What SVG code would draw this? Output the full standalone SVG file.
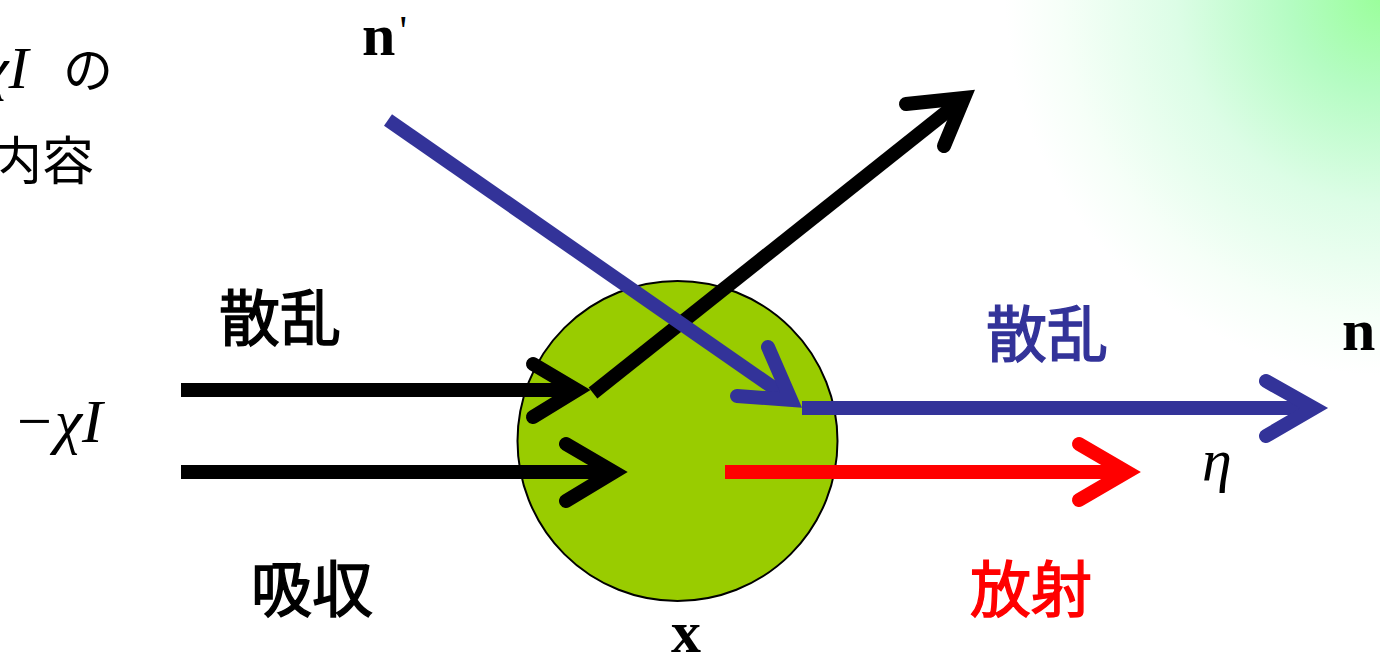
<svg xmlns="http://www.w3.org/2000/svg" width="1380" height="657" viewBox="0 0 1380 657">
  <style>
    .cjk { font-family: "Noto Sans CJK JP", "Noto Sans", sans-serif; }
    .cjkb { font-family: "Noto Sans CJK JP", "Noto Sans", sans-serif; font-size: 61px; stroke-width: 1.4; }
    .math { font-family: "Liberation Serif", "DejaVu Serif", serif; }
    .blk { stroke: #000; }
    .blu { stroke: #333399; }
    .red { stroke: #ff0000; }
    .shaft { fill: none; stroke-width: 14; stroke-linecap: butt; }
    .head { fill: none; stroke-width: 14; stroke-linecap: round; stroke-linejoin: miter; stroke-miterlimit: 10; }
  </style>
  <defs>
    <radialGradient id="glow" gradientUnits="userSpaceOnUse" cx="1385" cy="-5" r="380">
      <stop offset="0" stop-color="#99ff99"/>
      <stop offset="0.25" stop-color="#b4fcc2"/>
      <stop offset="0.55" stop-color="#dcfde6"/>
      <stop offset="0.85" stop-color="#f6fff8"/>
      <stop offset="1" stop-color="#ffffff"/>
    </radialGradient>
  </defs>
  <rect width="1380" height="657" fill="#fff"/>
  <rect x="1000" y="0" width="380" height="380" fill="url(#glow)"/>

  <g id="particle">
    <circle cx="677.5" cy="441" r="160" fill="#99cc00" stroke="#000" stroke-width="2"/>
  </g>

  <g id="connectors">
    <line class="shaft blk" x1="181" y1="390" x2="577" y2="390"/>
    <polyline class="head blk" points="533,364 577,390 533,417"/>
    <line class="shaft blk" x1="593" y1="393" x2="964" y2="98"/>
    <polyline class="head blk" points="906,104 964,98 944,146"/>
    <line class="shaft blk" x1="181" y1="472" x2="614" y2="472"/>
    <polyline class="head blk" points="566,444 614,472 566,501"/>
    <line class="shaft blu" x1="388" y1="120" x2="791" y2="400"/>
    <polyline class="head blu" points="768,347 791,400 737,396"/>
    <line class="shaft blu" x1="802" y1="408" x2="1314" y2="408" stroke-width="16"/>
    <polyline class="head blu" points="1266,381 1314,408 1266,436"/>
    <line class="shaft red" x1="725" y1="472" x2="1127" y2="472"/>
    <polyline class="head red" points="1079,444 1127,472 1079,500"/>
  </g>

  <g id="labels">
    <text class="math" x="-18" y="88" font-size="60" font-style="italic">χI</text>
    <text class="cjk" x="63" y="88" font-size="50">の</text>
    <text class="cjk" x="-10" y="180" font-size="52">内容</text>
    <text class="math" x="362" y="55" font-size="60" font-weight="bold">n<tspan font-weight="normal" font-size="42" dx="4" dy="-10">'</tspan></text>
    <text class="math" x="13" y="442" font-size="62" font-style="italic">−χI</text>
    <text class="cjkb" x="219" y="341" fill="#000" stroke="#000">散乱</text>
    <text class="cjkb" x="986" y="357" fill="#333399" stroke="#333399">散乱</text>
    <text class="math" x="1342" y="350" font-size="60" font-weight="bold">n</text>
    <text class="math" x="1202" y="480" font-size="60" font-style="italic">η</text>
    <text class="cjkb" x="251" y="612" fill="#000" stroke="#000">吸収</text>
    <text class="cjkb" x="970" y="612" fill="#ff0000" stroke="#ff0000">放射</text>
    <text class="math" x="671" y="652" font-size="60" font-weight="bold">x</text>
  </g>
</svg>
